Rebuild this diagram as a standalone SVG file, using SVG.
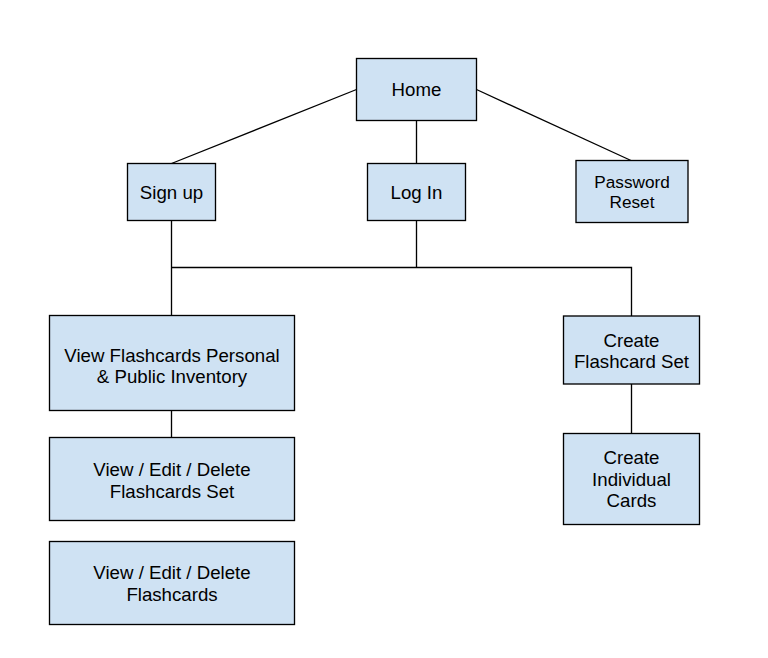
<svg xmlns="http://www.w3.org/2000/svg" width="768" height="658" viewBox="0 0 768 658">
<style>
.box{fill:#cfe2f3;stroke:#000;stroke-width:1.33}
.lbl{font-family:"Liberation Sans",Arial,sans-serif;font-size:18.67px;fill:#000;text-anchor:middle}
.sm{font-size:17.2px}
.conn{fill:none;stroke:#000;stroke-width:1.33}
</style>
<rect width="768" height="658" fill="#fff"/>
<g id="connectors" class="conn">
<line x1="356.5" y1="89.5" x2="171.5" y2="163.5"/>
<line x1="416.5" y1="120.5" x2="416.5" y2="163.5"/>
<line x1="476.5" y1="89.5" x2="631" y2="160.5"/>
<line x1="171.5" y1="220.5" x2="171.5" y2="315.5"/>
<line x1="416.5" y1="220.5" x2="416.5" y2="267.5"/>
<polyline points="171.5,267.5 631.5,267.5 631.5,316"/>
<line x1="171.5" y1="410.5" x2="171.5" y2="437.5"/>
<line x1="631.5" y1="384" x2="631.5" y2="433.5"/>
</g>
<g id="home">
<rect class="box" x="356.5" y="58.5" width="120" height="62"/>
<text class="lbl" x="416.5" y="95.8">Home</text>
</g>
<g id="signup">
<rect class="box" x="127.5" y="163.5" width="88" height="57"/>
<text class="lbl" x="171.5" y="198.8">Sign up</text>
</g>
<g id="login">
<rect class="box" x="367.5" y="163.5" width="98" height="57"/>
<text class="lbl" x="416.5" y="198.8">Log In</text>
</g>
<g id="password-reset">
<rect class="box" x="576" y="160.5" width="112" height="62"/>
<text class="lbl sm" x="632" y="187.5">Password</text>
<text class="lbl sm" x="632" y="207.5">Reset</text>
</g>
<g id="view-inventory">
<rect class="box" x="49.5" y="315.5" width="245" height="95"/>
<text class="lbl" x="172" y="361.7">View Flashcards Personal</text>
<text class="lbl" x="172" y="383.3">&amp; Public Inventory</text>
</g>
<g id="ved-set">
<rect class="box" x="49.5" y="437.5" width="245" height="83"/>
<text class="lbl" x="172" y="475.7">View / Edit / Delete</text>
<text class="lbl" x="172" y="497.7">Flashcards Set</text>
</g>
<g id="ved-cards">
<rect class="box" x="49.5" y="541.5" width="245" height="83"/>
<text class="lbl" x="172" y="579">View / Edit / Delete</text>
<text class="lbl" x="172" y="600.7">Flashcards</text>
</g>
<g id="create-set">
<rect class="box" x="563.5" y="316" width="136" height="68"/>
<text class="lbl" x="631.5" y="346.5">Create</text>
<text class="lbl" x="631.5" y="367.7">Flashcard Set</text>
</g>
<g id="create-cards">
<rect class="box" x="563.5" y="433.5" width="136" height="91"/>
<text class="lbl" x="631.5" y="464">Create</text>
<text class="lbl" x="631.5" y="485.5">Individual</text>
<text class="lbl" x="631.5" y="507">Cards</text>
</g>
</svg>
